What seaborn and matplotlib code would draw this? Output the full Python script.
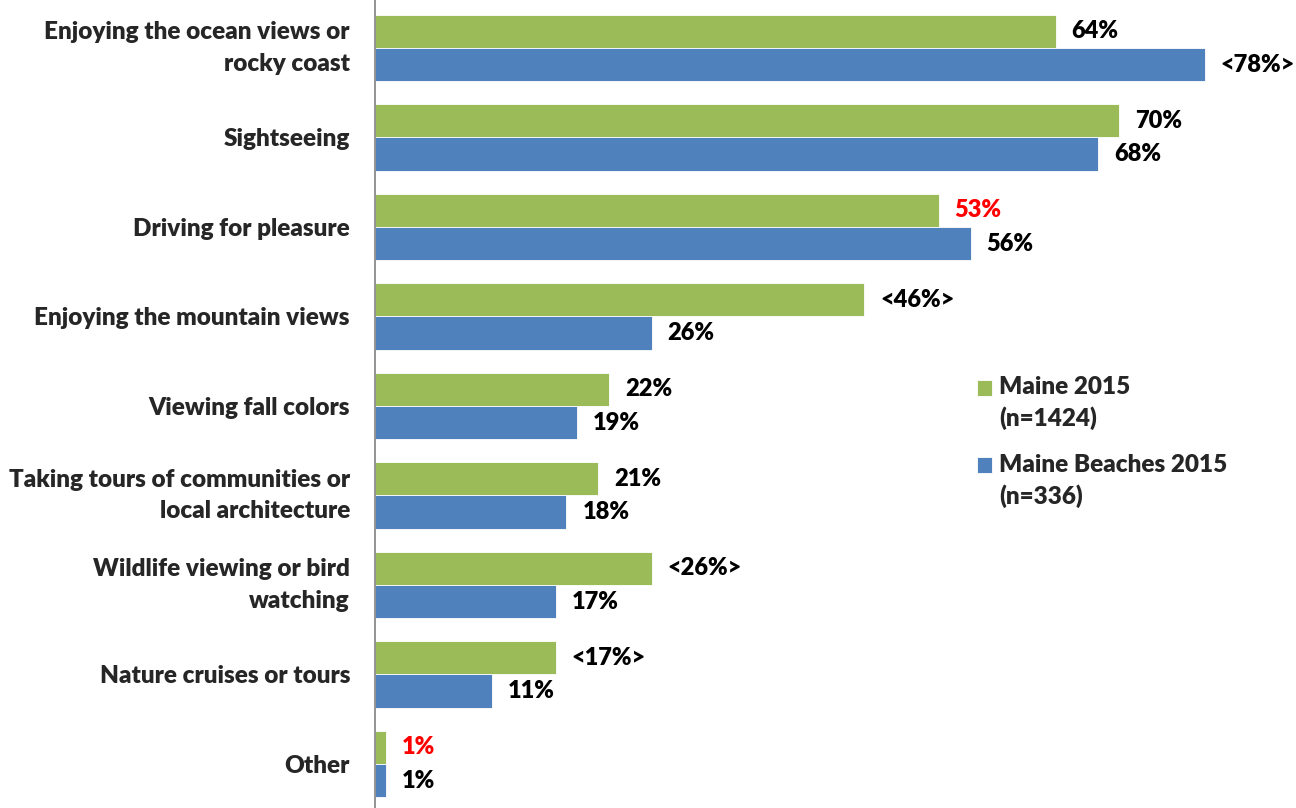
import matplotlib
matplotlib.use("Agg")
import matplotlib.pyplot as plt
from matplotlib.patches import Rectangle
from matplotlib.legend_handler import HandlerPatch
import seaborn as sns
import pandas as pd

categories = [
    "Enjoying the ocean views or\nrocky coast",
    "Sightseeing",
    "Driving for pleasure",
    "Enjoying the mountain views",
    "Viewing fall colors",
    "Taking tours of communities or\nlocal architecture",
    "Wildlife viewing or bird\nwatching",
    "Nature cruises or tours",
    "Other",
]
series = ["Maine 2015\n(n=1424)", "Maine Beaches 2015\n(n=336)"]
maine = [64, 70, 53, 46, 22, 21, 26, 17, 1]
beaches = [78, 68, 56, 26, 19, 18, 17, 11, 1]
maine_labels = ["64%", "70%", "53%", "<46%>", "22%", "21%", "<26%>", "<17%>", "1%"]
beaches_labels = ["<78%>", "68%", "56%", "26%", "19%", "18%", "17%", "11%", "1%"]
maine_label_colors = ["black", "black", "red", "black", "black", "black", "black", "black", "red"]
beaches_label_colors = ["black"] * 9

colors = ["#9BBB59", "#4F81BD"]

df = pd.DataFrame({
    "activity": categories * 2,
    "share": maine + beaches,
    "group": [series[0]] * len(categories) + [series[1]] * len(categories),
})

sns.set_style("white")
plt.rcParams["font.family"] = ["Lato", "DejaVu Sans"]
FW = "heavy"
FS = 17.5
LS = 1.55

fig = plt.figure(figsize=(12.96, 8.08), dpi=100)
ax = fig.add_axes([375 / 1296, 0, 921 / 1296, 1])

sns.barplot(data=df, y="activity", x="share", hue="group", order=categories,
            hue_order=series, palette=colors, saturation=1, orient="h",
            width=0.74, gap=0, edgecolor="white", linewidth=0.6, ax=ax)

ax.set_xlim(0, 86.6)
ax.set_ylim(8.492, -0.536)

for cont, labels, cols in zip(ax.containers, [maine_labels, beaches_labels],
                              [maine_label_colors, beaches_label_colors]):
    texts = ax.bar_label(cont, labels=labels, padding=11.5, fontsize=17,
                         fontweight=FW, clip_on=False)
    for t, c in zip(texts, cols):
        t.set_color(c)

ax.set_xlabel("")
ax.set_ylabel("")
ax.set_xticks([])
ax.tick_params(axis="y", length=0, pad=18, labelsize=FS)
for lbl in ax.get_yticklabels():
    lbl.set_fontweight(FW)
    lbl.set_horizontalalignment("right")
    lbl.set_multialignment("right")
    lbl.set_linespacing(LS)
    if "\n" in lbl.get_text():
        lbl.set_verticalalignment("center")

for side in ["top", "right", "bottom"]:
    ax.spines[side].set_visible(False)
ax.spines["left"].set_color("#808080")
ax.spines["left"].set_linewidth(1.2)


def top_aligned_square(legend, orig_handle, xdescent, ydescent, width, height, fontsize):
    # lift the swatch so it sits beside the first line of a two-line label
    return Rectangle((-xdescent, -ydescent + 11.5), width, height)


leg = ax.legend(loc="upper left", bbox_to_anchor=((977 - 375) / 921, 1 - 376 / 808),
                frameon=False, fontsize=FS, handlelength=0.62, handleheight=0.62,
                handletextpad=0.3, labelspacing=0.95, borderaxespad=0, borderpad=0,
                handler_map={Rectangle: HandlerPatch(patch_func=top_aligned_square)})
for t in leg.get_texts():
    t.set_fontweight(FW)
    t.set_linespacing(1.45)

fig.savefig("out.png", dpi=100)
